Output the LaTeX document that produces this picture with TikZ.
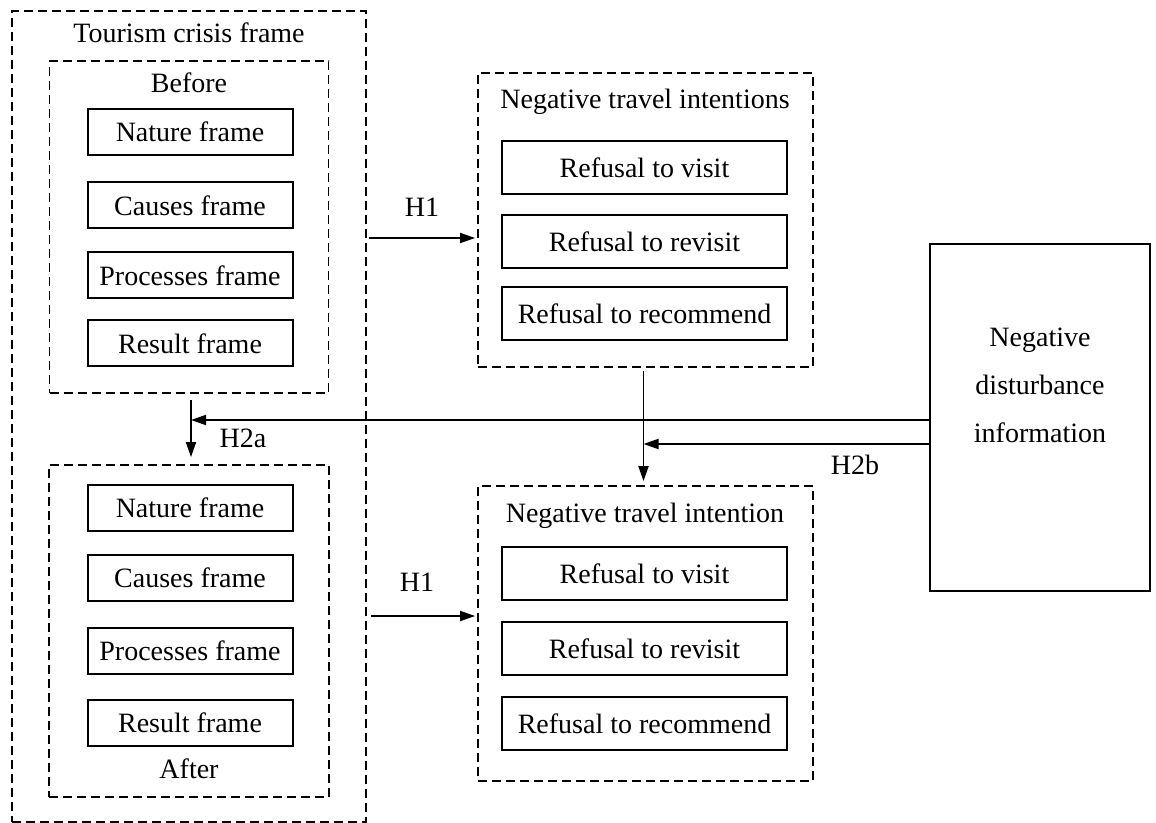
\documentclass[tikz,border=0pt]{standalone}
\usepackage{fontspec}
\setmainfont{Liberation Serif}
\usetikzlibrary{arrows.meta, positioning}

\begin{document}
\begin{tikzpicture}[x=0.5pt, y=-0.5pt,
    every node/.style={font=\fontsize{14}{16.8}\selectfont, inner sep=0pt},
    dashbox/.style={draw, line width=0.9pt, dash pattern=on 4.5pt off 2.5pt},
    framebox/.style={draw, line width=1pt, minimum width=102.5pt, minimum height=23pt},
    refbox/.style={draw, line width=1pt, minimum width=142.5pt, minimum height=26.5pt},
    arr/.style={line width=0.9pt, -{Triangle[length=7.5pt, width=5pt]}}]
  \useasboundingbox (0,0) rectangle (1156,823);
  % Tourism crisis frame, before / after
  \node[dashbox, minimum width=177pt, minimum height=405.5pt] (crisis) at (189,416.5) {};
  \node (crisistitle) at (189,33) {Tourism crisis frame};
  \node[dashbox, minimum width=139.5pt, minimum height=166pt] (before) at (189,227) {};
  \node (beforetitle) at (189,83) {Before};
  \node[dashbox, minimum width=140pt, minimum height=166pt] (after) at (189,631) {};
  \node (aftertitle) at (189,769) {After};
  \foreach \y/\t [count=\i] in {132/Nature, 205.5/Causes, 275.5/Processes, 343.5/Result} {
    \node[framebox] (b\i) at (190,\y) {\t\ frame};
  }
  \foreach \y/\t [count=\i] in {507.5/Nature, 578/Causes, 651/Processes, 723/Result} {
    \node[framebox] (a\i) at (190,\y) {\t\ frame};
  }
  % negative travel intentions
  \node[dashbox, minimum width=167.5pt, minimum height=147pt] (ntiA) at (645.5,220) {};
  \node (ntiAtitle) at (645,102) {Negative travel intentions};
  \foreach \y/\t [count=\i] in {167.5/visit, 242/revisit, 314/recommend} {
    \node[refbox] (ra\i) at (644.5,\y) {Refusal to \t};
  }
  \node[dashbox, minimum width=167.5pt, minimum height=147.5pt] (ntiB) at (645.5,633.5) {};
  \node (ntiBtitle) at (645,516) {Negative travel intention};
  \foreach \y/\t [count=\i] in {573.5/visit, 648.5/revisit, 723.5/recommend} {
    \node[refbox] (rb\i) at (644.5,\y) {Refusal to \t};
  }
  % negative disturbance information
  \node[draw, line width=1pt, minimum width=110pt, minimum height=173.5pt] (dist) at (1040,417.5) {};
  \node[align=center, font=\fontsize{14}{24}\selectfont] (disttext) at (1040,385) {Negative\\disturbance\\information};
  % H1
  \coordinate (h1a) at (369,238);
  \draw[arr, shorten >=1pt] (h1a) -- (h1a -| ntiA.west);
  \node (h1alabel) at (422,207) {H1};
  \coordinate (h1b) at (371,616);
  \draw[arr, shorten >=1pt] (h1b) -- (h1b -| ntiB.west);
  \node (h1blabel) at (417,582) {H1};
  % H2a
  \coordinate (h2arow) at (0,420);
  \draw[arr, shorten <=3pt, shorten >=3.5pt] ([xshift=1pt]before.south) -- ([xshift=1pt]after.north);
  \draw[arr] (dist.west |- h2arow) -- ([xshift=1pt]before.south |- h2arow);
  \node (h2alabel) at (243,438) {H2a};
  % H2b
  \coordinate (h2brow) at (0,444);
  \draw[arr, shorten <=1.5pt, shorten >=2pt] ([xshift=-1pt]ntiA.south) -- ([xshift=-1pt]ntiB.north);
  \draw[arr] (dist.west |- h2brow) -- ([xshift=-1pt]ntiA.south |- h2brow);
  \node (h2blabel) at (855,465) {H2b};
\end{tikzpicture}
\end{document}
